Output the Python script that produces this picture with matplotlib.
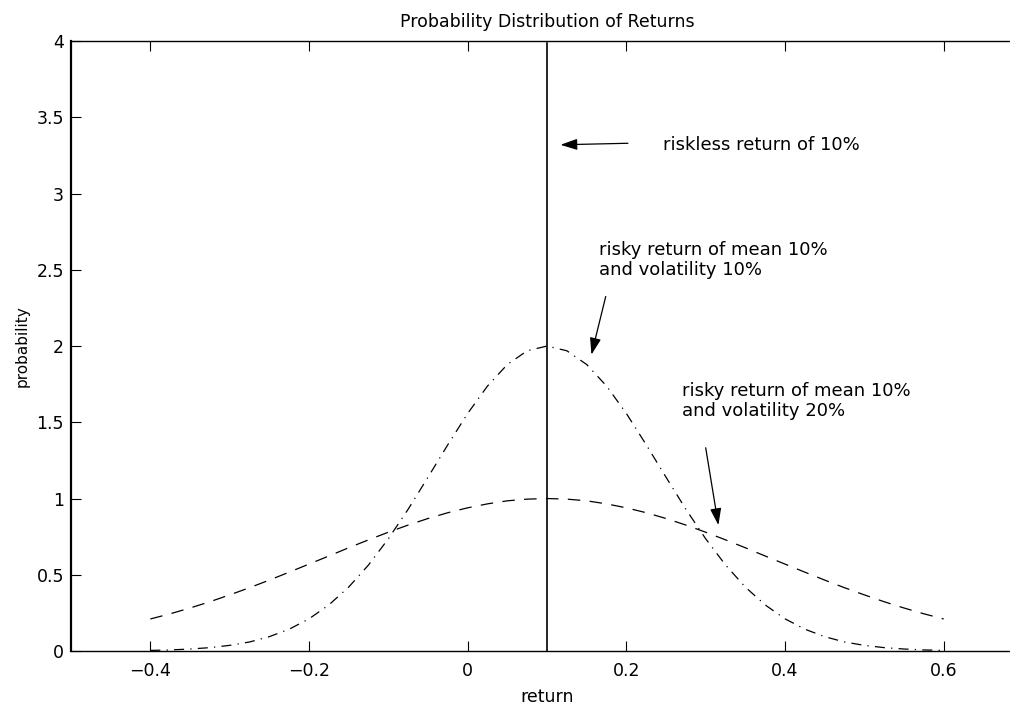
import numpy as np
import matplotlib
matplotlib.use("Agg")
import matplotlib.pyplot as plt

plt.rcParams['font.family'] = ['DejaVu Sans']

# values
returns = [-0.4, -0.375, -0.35, -0.325, -0.3, -0.275, -0.25, -0.225, -0.2, -0.175,
           -0.15, -0.125, -0.1, -0.075, -0.05, -0.025, 0.0, 0.025, 0.05, 0.075,
           0.1, 0.125, 0.15, 0.175, 0.2, 0.225, 0.25, 0.275, 0.3, 0.325,
           0.35, 0.375, 0.4, 0.425, 0.45, 0.475, 0.5, 0.525, 0.55, 0.575, 0.6]
vol10 = [0.004, 0.007, 0.013, 0.022, 0.037, 0.059, 0.094, 0.143, 0.211, 0.302,
         0.419, 0.564, 0.736, 0.930, 1.140, 1.353, 1.558, 1.738, 1.879, 1.969,
         2.000, 1.969, 1.879, 1.738, 1.558, 1.353, 1.140, 0.930, 0.736, 0.564,
         0.419, 0.302, 0.211, 0.143, 0.094, 0.059, 0.037, 0.022, 0.013, 0.007, 0.004]
vol20 = [0.210, 0.244, 0.282, 0.323, 0.368, 0.415, 0.465, 0.517, 0.570, 0.623,
         0.677, 0.729, 0.779, 0.826, 0.869, 0.907, 0.939, 0.965, 0.985, 0.996,
         1.000, 0.996, 0.985, 0.965, 0.939, 0.907, 0.869, 0.826, 0.779, 0.729,
         0.677, 0.623, 0.570, 0.517, 0.465, 0.415, 0.368, 0.323, 0.282, 0.244, 0.210]
riskless = 0.1

fig = plt.figure(figsize=(10.1, 7.1), dpi=100)
ax = fig.add_axes([0.0703, 0.0831, 0.9426, 0.859])

ax.plot([riskless, riskless], [0, 3.985], color='k', lw=1.2)
ax.plot(returns, vol10, color='k', lw=0.9, dashes=(8, 5, 1, 5))
ax.plot(returns, vol20, color='k', lw=0.9, dashes=(10, 7.5))

ax.set_xlim(-0.5, 0.7)
ax.set_ylim(0, 4)
ax.set_xticks([-0.4, -0.2, 0, 0.2, 0.4, 0.6])
ax.set_xticklabels(['\u22120.4', '\u22120.2', '0', '0.2', '0.4', '0.6'])
ax.set_yticks([0, 0.5, 1, 1.5, 2, 2.5, 3, 3.5, 4])
ax.set_yticklabels(['0', '0.5', '1', '1.5', '2', '2.5', '3', '3.5', '4'])
ax.tick_params(direction='in', length=7, width=0.8, labelsize=12.5, top=True, right=True)
ax.tick_params(axis='y', pad=5)
ax.tick_params(axis='x', pad=8)
for s in ax.spines.values():
    s.set_linewidth(1.0)
ax.spines['left'].set_linewidth(1.6)

ax.set_title('Probability Distribution of Returns', fontsize=12.5, pad=10)
ax.set_xlabel('return', fontsize=12.5, labelpad=6)
ax.set_ylabel('probability', fontsize=11, labelpad=5)

arrow = dict(arrowstyle='-|>,head_length=0.6,head_width=0.2', color='k', lw=0.9,
             mutation_scale=17, shrinkA=0, shrinkB=0)
ax.annotate('', xy=(0.117, 3.32), xytext=(0.202, 3.33), arrowprops=arrow)
ax.annotate('', xy=(0.156, 1.944), xytext=(0.174, 2.325), arrowprops=arrow)
ax.annotate('', xy=(0.316, 0.826), xytext=(0.30, 1.333), arrowprops=arrow)

ax.text(0.246, 3.32, 'riskless return of 10%', fontsize=13, va='center')
ax.text(0.166, 2.565, 'risky return of mean 10%\nand volatility 10%', fontsize=13,
        va='center', linespacing=1.1)
ax.text(0.27, 1.64, 'risky return of mean 10%\nand volatility 20%', fontsize=13,
        va='center', linespacing=1.1)

fig.savefig('out.png', dpi=100)
